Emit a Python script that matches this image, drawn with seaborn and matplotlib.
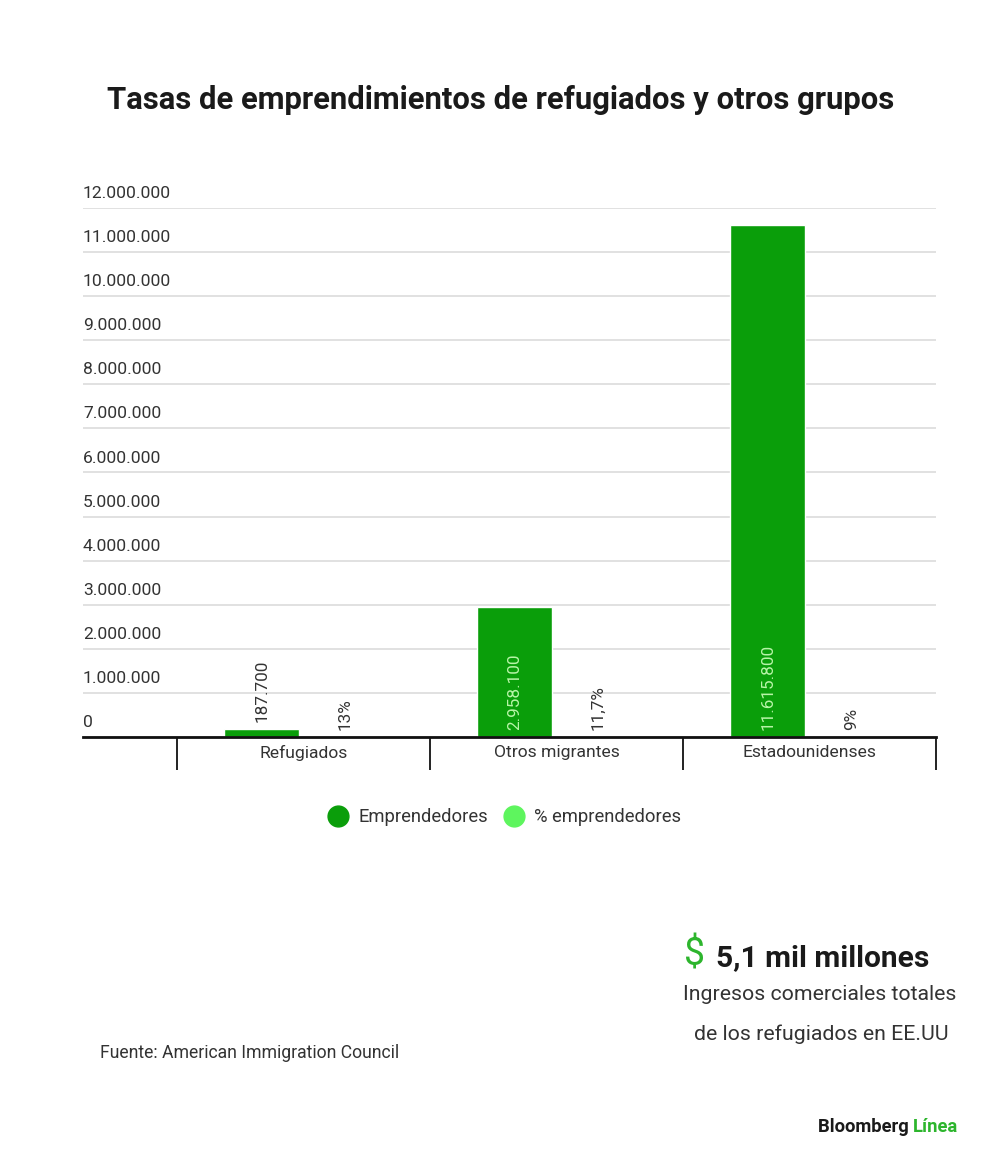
import matplotlib
matplotlib.use("Agg")
import matplotlib.pyplot as plt
import matplotlib.transforms as mtransforms
from matplotlib.lines import Line2D
import seaborn as sns
import pandas as pd

# ---- data ----
categories = ["Refugiados", "Otros migrantes", "Estadounidenses"]
emprendedores = [187700, 2958100, 11615800]
pct_emprendedores = [13, 11.7, 9]
pct_labels = ["13%", "11,7%", "9%"]
series_names = ["Emprendedores", "% emprendedores"]
y_ticks = [0, 1000000, 2000000, 3000000, 4000000, 5000000, 6000000,
           7000000, 8000000, 9000000, 10000000, 11000000, 12000000]

dark_green = "#0a9e0a"
light_green = "#5ef55e"
text_col = "#333333"

df = pd.DataFrame({
    "categoria": categories * 2,
    "serie": [series_names[0]] * 3 + [series_names[1]] * 3,
    "valor": emprendedores + pct_emprendedores,
})

sns.set_theme(style="white")
plt.rcParams["font.family"] = ["Roboto", "DejaVu Sans"]

W, H = 1000, 1171
fig = plt.figure(figsize=(W / 100, H / 100), dpi=100)
ax_left, ax_right, ax_top, ax_bot = 83, 936, 208, 737
ax = fig.add_axes([ax_left / W, 1 - ax_bot / H, (ax_right - ax_left) / W, (ax_bot - ax_top) / H])

sns.barplot(data=df, x="categoria", y="valor", hue="serie", order=categories,
            hue_order=series_names, palette=[dark_green, light_green],
            width=0.66, gap=0.1, ax=ax, legend=False, saturation=1)

# x range: categories occupy 177..936 px
cat_w = (ax_right - 177) / 3.0
ax.set_xlim(-0.5 - (177 - ax_left) / cat_w, 2.5)
ax.set_ylim(0, 12000000)

# grid
ax.set_yticks(y_ticks)
ax.yaxis.grid(True, color="#d9d9d9", linewidth=1.1)
ax.set_axisbelow(True)
ax.tick_params(axis="y", length=0, labelleft=False)
for v in y_ticks:
    lab = f"{v:,}".replace(",", ".")
    ax.annotate(lab, xy=(0, v), xycoords=mtransforms.blended_transform_factory(ax.transAxes, ax.transData),
                xytext=(0, 5), textcoords="offset points", ha="left", va="bottom",
                fontsize=12.6, color=text_col)

for s in ["left", "right", "top"]:
    ax.spines[s].set_visible(False)
ax.spines["bottom"].set_color("#111111")
ax.spines["bottom"].set_linewidth(2)

# category dividers
ax.set_xticks([-0.5, 0.5, 1.5, 2.5], minor=True)
ax.tick_params(axis="x", which="minor", bottom=True, length=24, width=1.3,
               color="#111111", direction="out")
ax.tick_params(axis="x", which="major", bottom=True, length=0, pad=6, labelsize=12.6,
               labelcolor=text_col)
ax.set_xlabel("")
ax.set_ylabel("")

# bar labels
cont_emp = ax.containers[0]
cont_pct = ax.containers[1]
for bar, v in zip(cont_emp, emprendedores):
    cx = bar.get_x() + bar.get_width() / 2
    lab = f"{v:,}".replace(",", ".")
    if v > 1500000:
        ax.annotate(lab, xy=(cx, 0), xytext=(0, 5), textcoords="offset points",
                    rotation=90, ha="center", va="bottom", fontsize=12.3, color="#b8f5a8")
    else:
        ax.annotate(lab, xy=(cx, bar.get_height()), xytext=(0, 5), textcoords="offset points",
                    rotation=90, ha="center", va="bottom", fontsize=12.3, color=text_col)
for bar, lab in zip(cont_pct, pct_labels):
    cx = bar.get_x() + bar.get_width() / 2
    ax.annotate(lab, xy=(cx, bar.get_height()), xytext=(0, 5), textcoords="offset points",
                rotation=90, ha="center", va="bottom", fontsize=12.3, color=text_col)

# legend
handles = [Line2D([0], [0], marker="o", color="none", markerfacecolor=c, markeredgecolor=c,
                  markersize=15) for c in [dark_green, light_green]]
fig.legend(handles, series_names, loc="center", bbox_to_anchor=(504 / W, 1 - 817 / H),
           ncol=2, frameon=False, fontsize=13.2, handletextpad=0.5, columnspacing=0.8,
           labelcolor=text_col, handlelength=1.2)

# title
fig.text(0.501, 1 - 100 / H, "Tasas de emprendimientos de refugiados y otros grupos",
         ha="center", va="center", fontsize=22.3, fontweight="bold", color="#1a1a1a")

# right annotation
fig.text(684 / W, 1 - 955 / H, "$", ha="left", va="center", fontsize=27, color="#2db52d")
fig.text(716 / W, 1 - 958 / H, "5,1 mil millones", ha="left", va="center", fontsize=21.5,
         fontweight="bold", color="#1a1a1a")
fig.text(819.5 / W, 1 - 995 / H, "Ingresos comerciales totales", ha="center", va="center",
         fontsize=15.3, color=text_col)
fig.text(821 / W, 1 - 1034 / H, "de los refugiados en EE.UU", ha="center", va="center",
         fontsize=15.3, color=text_col)

# source
fig.text(100 / W, 1 - 1053 / H, "Fuente: American Immigration Council", ha="left", va="center",
         fontsize=12.7, color=text_col)

# brand
t1 = fig.text(818 / W, 1 - 1127 / H, "Bloomberg ", ha="left", va="center", fontsize=13.2,
              fontweight="bold", color="#1a1a1a")
fig.canvas.draw()
bb = t1.get_window_extent()
fig.text(bb.x1 / W, 1 - 1127 / H, "Línea", ha="left", va="center", fontsize=13.2,
         fontweight="bold", color="#2db52d")

fig.savefig("out.png", dpi=100, facecolor="white")
